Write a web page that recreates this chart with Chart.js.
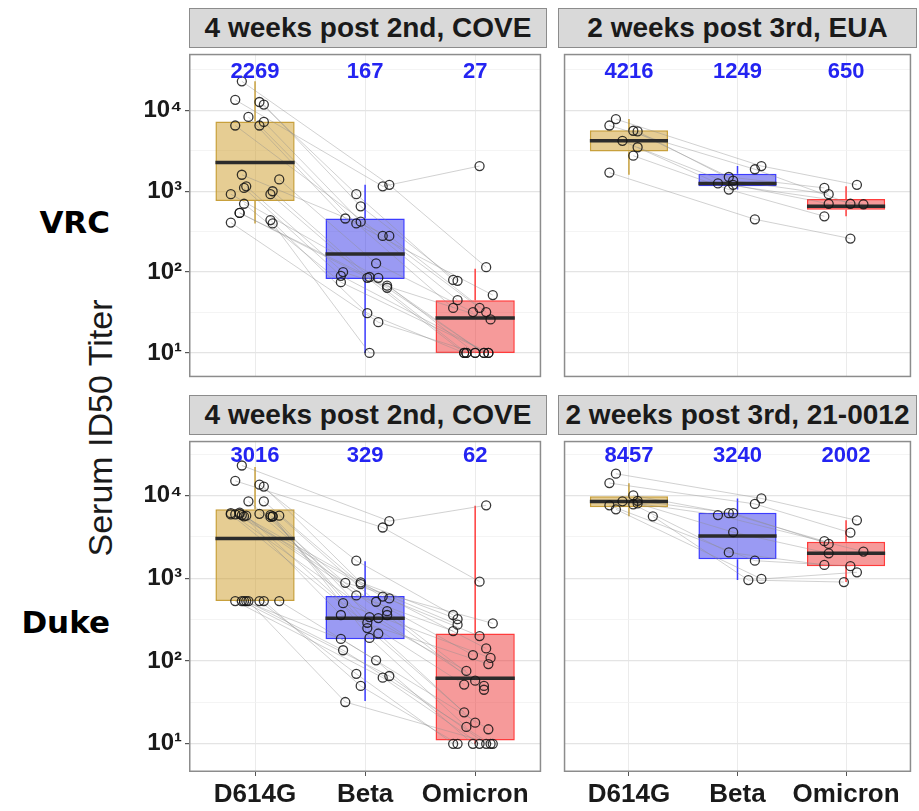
<!DOCTYPE html>
<html>
<head>
<meta charset="utf-8">
<script src="https://cdn.jsdelivr.net/npm/chart.js@4.4.1/dist/chart.umd.min.js"></script>
<style>
  body { margin: 0; background: #fff; width: 919px; height: 811px; position: relative; overflow: hidden; font-family: "Liberation Sans", Arial, sans-serif; }
  canvas { position: absolute; }
  .strip { position: absolute; height: 40px; background: #d9d9d9; border: 1.5px solid #8c8c8c; box-sizing: border-box; font-size: 28px; font-weight: bold; line-height: 37px; text-align: center; color: #1a1a1a; white-space: nowrap; }
  .group { position: absolute; right: 809px; transform: translateY(-50%); font-family: "DejaVu Sans", sans-serif; font-weight: bold; font-size: 31px; color: #000; }
  .ytitle { position: absolute; left: 100px; top: 428px; transform: translate(-50%, -50%) rotate(-90deg); font-size: 34px; color: #1a1a1a; white-space: nowrap; }
</style>
</head>
<body>
<div class="strip" style="left:189px; top:8px; width:358px;">4 weeks post 2nd, COVE</div>
<div class="strip" style="left:558px; top:8px; width:359px;">2 weeks post 3rd, EUA</div>
<div class="strip" style="left:189px; top:395px; width:358px;">4 weeks post 2nd, COVE</div>
<div class="strip" style="left:558px; top:395px; width:359px;">2 weeks post 3rd, 21-0012</div>
<div class="group" style="top:222px;">VRC</div>
<div class="group" style="top:622px;">Duke</div>
<div class="ytitle">Serum ID50 Titer</div>

<canvas id="vrcCove" width="427" height="335" style="left:120px; top:48px;"></canvas>
<canvas id="vrcEua" width="359" height="335" style="left:558px; top:48px;"></canvas>
<canvas id="dukeCove" width="427" height="376" style="left:120px; top:435px;"></canvas>
<canvas id="dukeBoost" width="359" height="376" style="left:558px; top:435px;"></canvas>

<script>
const variants = ["D614G", "Beta", "Omicron"];
const yTickValues = [10, 31.6, 100, 316, 1000, 3162, 10000, 31623];
const medianLabelAt = 30000;

// VRC, 4 weeks post 2nd (one entry per subject, same order in each list)
const vrcCoveD614G = [22900, 13500, 12700, 11800, 8300, 7200, 6500, 6500, 1600, 1400, 1150, 1100, 1000, 920, 920, 540, 540, 440, 410, 400, 700];
const vrcCoveBeta = [1200, 1150, 920, 650, 460, 420, 400, 280, 280, 128, 100, 90, 87, 85, 85, 68, 64, 31, 24, 10, 75];
const vrcCoveOmicron = [115, 2050, 80, 78, 52, 45, 36, 36, 32, 32, 26, 10, 10, 10, 10, 10, 10, 10, 10, 10, 10];
const vrcCoveLow = [400, 10, 10];
const vrcCoveQ1 = [760, 82, 10];
const vrcCoveMedian = [2269, 167, 27];
const vrcCoveQ3 = [7300, 460, 45];
const vrcCoveHigh = [22900, 1200, 110];

// VRC, 2 weeks post 3rd, EUA
const vrcEuaD614G = [7800, 6500, 5600, 5500, 4200, 3500, 2750, 1700];
const vrcEuaBeta = [2050, 1870, 1500, 1350, 1250, 1200, 1050, 450];
const vrcEuaOmicron = [1200, 700, 1100, 920, 690, 700, 490, 260];
const vrcEuaLow = [1600, 1050, 490];
const vrcEuaQ1 = [3100, 1150, 590];
const vrcEuaMedian = [4216, 1249, 650];
const vrcEuaQ3 = [5700, 1650, 800];
const vrcEuaHigh = [7800, 2050, 1150];

// Duke, 4 weeks post 2nd, COVE
const dukeCoveD614G = [23000, 15000, 13500, 12800, 8500, 8500, 6000, 5900, 5800, 5700, 5700, 5600, 5600, 6100, 5500, 6000, 6200, 5800, 5900, 5600, 530, 530, 530, 530, 530, 530, 530, 530];
const dukeCoveBeta = [4900, 4100, 1630, 890, 880, 850, 620, 600, 570, 520, 500, 360, 340, 330, 290, 360, 400, 250, 215, 190, 185, 135, 102, 66, 63, 70, 50, 32];
const dukeCoveOmicron = [7600, 910, 360, 320, 285, 275, 230, 200, 142, 118, 109, 92, 76, 58, 52, 45, 50, 24, 18, 16, 15, 10, 10, 10, 10, 10, 10, 10];
const dukeCoveLow = [530, 33, 10];
const dukeCoveQ1 = [530, 183, 11];
const dukeCoveMedian = [3016, 329, 62];
const dukeCoveQ3 = [6800, 610, 215];
const dukeCoveHigh = [22000, 1600, 7500];

// Duke, 2 weeks post 3rd, 21-0012
const dukeBoostD614G = [18300, 14100, 10000, 8600, 8500, 8000, 7800, 7600, 6800, 5600];
const dukeBoostBeta = [9200, 7900, 6100, 6100, 5800, 3600, 2050, 1630, 980, 950];
const dukeBoostOmicron = [5000, 3550, 2800, 2600, 2100, 2000, 1450, 1400, 1180, 900];
const dukeBoostLow = [5600, 950, 900];
const dukeBoostQ1 = [7200, 1700, 1400];
const dukeBoostMedian = [8457, 3240, 2002];
const dukeBoostQ3 = [9800, 6200, 2750];
const dukeBoostHigh = [14000, 9200, 5000];

const boxFill = ["rgba(205,155,40,0.5)", "rgba(40,40,230,0.47)", "rgba(235,40,40,0.47)"];
const boxLine = ["rgb(200,160,60)", "rgb(60,60,255)", "rgb(255,60,60)"];
const sup = { 1: "\u00b9", 2: "\u00b2", 3: "\u00b3", 4: "\u2074" };

// fixed horizontal spread for the dots, like geom_jitter
const jitter = (i, c) => (((i * i * 7 + i * 13 + c * 17 + 5) % 23) / 22 - 0.5) * 0.44;
const isDecade = (v) => Math.abs(Math.log10(v) - Math.round(Math.log10(v))) < 1e-3;

const panelDecor = {
  id: "panelDecor",
  afterDatasetsDraw(chart, args, opts) {
    const { ctx, chartArea: a } = chart;
    const x = chart.scales.x, y = chart.scales.y;
    ctx.save();
    ctx.font = 'bold 22px "Liberation Sans", Arial, sans-serif';
    ctx.fillStyle = "#2424f2";
    ctx.textAlign = "center";
    ctx.textBaseline = "middle";
    opts.medians.forEach((m, c) => ctx.fillText(String(m), x.getPixelForValue(c), y.getPixelForValue(medianLabelAt)));
    ctx.strokeStyle = "#8c8c8c";
    ctx.lineWidth = 1.5;
    ctx.strokeRect(a.left + 0.75, a.top + 0.75, a.width - 1.5, a.height - 1.5);
    ctx.restore();
  }
};

function buildPanel(id, d614g, beta, omicron, low, q1, median, q3, high, showY, showX, yLo, yHi) {
  const series = [d614g, beta, omicron];
  const datasets = [];

  const pts = [];
  series.forEach((vals, c) => vals.forEach((v, i) => pts.push({ x: c + jitter(i, c), y: v })));
  datasets.push({
    type: "scatter", data: pts, order: 0,
    pointRadius: 4.5, pointBorderWidth: 1.3,
    pointBorderColor: "rgba(20,20,20,0.85)", pointBackgroundColor: "rgba(0,0,0,0)"
  });

  d614g.forEach((v, i) => {
    datasets.push({
      type: "line", order: 2, pointRadius: 0,
      borderColor: "rgba(140,140,140,0.45)", borderWidth: 0.9,
      data: series.map((s, c) => ({ x: c + jitter(i, c), y: s[i] }))
    });
  });

  datasets.push({
    type: "bar", order: 3,
    data: q1.map((v, c) => ({ x: c, y: [v, q3[c]] })),
    backgroundColor: boxFill, borderColor: boxLine, borderWidth: 1.5,
    borderSkipped: false, barPercentage: 0.72, categoryPercentage: 1, grouped: false
  });

  median.forEach((m, c) => {
    datasets.push({
      type: "line", order: 1, pointRadius: 0, borderColor: "#2b2b2b", borderWidth: 3.5,
      data: [{ x: c - 0.36, y: m }, { x: c + 0.36, y: m }]
    });
  });

  low.forEach((lo, c) => {
    [[lo, q1[c]], [q3[c], high[c]]].forEach(seg => {
      datasets.push({
        type: "line", order: 4, pointRadius: 0, borderColor: boxLine[c], borderWidth: 1.5,
        data: seg.map(v => ({ x: c, y: v }))
      });
    });
  });

  new Chart(document.getElementById(id), {
    type: "scatter",
    data: { datasets },
    plugins: [panelDecor],
    options: {
      responsive: false,
      animation: false,
      devicePixelRatio: 1,
      layout: { padding: 0 },
      plugins: { legend: { display: false }, tooltip: { enabled: false }, panelDecor: { medians: median } },
      scales: {
        x: {
          type: "linear", min: -0.6, max: 2.6, offset: false,
          afterBuildTicks: (s) => { s.ticks = [0, 1, 2].map(v => ({ value: v })); },
          afterFit: (s) => { s.height = showX ? 39 : 0; s.paddingLeft = 0; s.paddingRight = 0; },
          border: { display: false },
          grid: { offset: false, color: "#ebebeb", lineWidth: 1, drawTicks: showX, tickLength: 4, tickColor: "#555" },
          ticks: {
            display: showX, padding: 3, color: "#1a1a1a",
            font: { family: '"Liberation Sans", Arial, sans-serif', size: 26, weight: "bold" },
            callback: (v) => variants[v]
          }
        },
        y: {
          type: "logarithmic", min: Math.pow(10, yLo), max: Math.pow(10, yHi),
          afterBuildTicks: (s) => { s.ticks = yTickValues.map(v => ({ value: v })); },
          afterFit: (s) => { s.width = showY ? 69 : 0; s.paddingTop = 0; s.paddingBottom = 0; },
          border: { display: false },
          grid: {
            color: (ctx) => ctx.tick && isDecade(ctx.tick.value) ? "#e4e4e4" : "#f1f1f1",
            lineWidth: (ctx) => ctx.tick && isDecade(ctx.tick.value) ? 1.2 : 0.8,
            drawTicks: showY, tickLength: 4,
            tickColor: (ctx) => ctx.tick && isDecade(ctx.tick.value) ? "#555" : "rgba(0,0,0,0)"
          },
          ticks: {
            display: showY, padding: 3, color: "#1a1a1a",
            font: { family: '"Liberation Sans", Arial, sans-serif', size: 24, weight: "bold" },
            callback: (v) => isDecade(v) ? "10" + sup[Math.round(Math.log10(v))] : ""
          }
        }
      }
    }
  });
}

buildPanel("vrcCove", vrcCoveD614G, vrcCoveBeta, vrcCoveOmicron, vrcCoveLow, vrcCoveQ1, vrcCoveMedian, vrcCoveQ3, vrcCoveHigh, true, false, 0.7, 4.7);
buildPanel("vrcEua", vrcEuaD614G, vrcEuaBeta, vrcEuaOmicron, vrcEuaLow, vrcEuaQ1, vrcEuaMedian, vrcEuaQ3, vrcEuaHigh, false, false, 0.7, 4.7);
buildPanel("dukeCove", dukeCoveD614G, dukeCoveBeta, dukeCoveOmicron, dukeCoveLow, dukeCoveQ1, dukeCoveMedian, dukeCoveQ3, dukeCoveHigh, true, true, 0.66, 4.66);
buildPanel("dukeBoost", dukeBoostD614G, dukeBoostBeta, dukeBoostOmicron, dukeBoostLow, dukeBoostQ1, dukeBoostMedian, dukeBoostQ3, dukeBoostHigh, false, true, 0.66, 4.66);
</script>
</body>
</html>
